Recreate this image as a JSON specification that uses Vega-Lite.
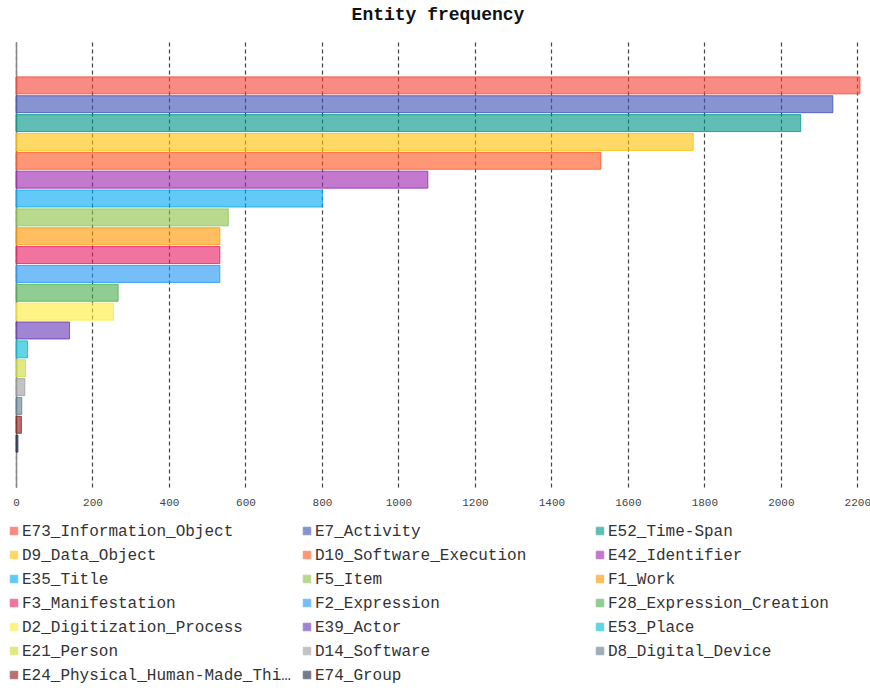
{
  "$schema": "https://vega.github.io/schema/vega-lite/v6.json",
  "width": 844,
  "height": 445,
  "autosize": "none",
  "padding": {"left": 16, "top": 42, "right": 10, "bottom": 203},
  "background": "white",
  "title": {
    "text": "Entity frequency",
    "font": "Liberation Mono",
    "fontSize": 18,
    "fontWeight": "bold",
    "color": "#111",
    "anchor": "middle",
    "offset": 18
  },
  "data": {
    "values": [
      {"entity": "E73_Information_Object", "count": 2207},
      {"entity": "E7_Activity", "count": 2136},
      {"entity": "E52_Time-Span", "count": 2052},
      {"entity": "D9_Data_Object", "count": 1771},
      {"entity": "D10_Software_Execution", "count": 1529},
      {"entity": "E42_Identifier", "count": 1077},
      {"entity": "E35_Title", "count": 801},
      {"entity": "F5_Item", "count": 555},
      {"entity": "F1_Work", "count": 533},
      {"entity": "F3_Manifestation", "count": 533},
      {"entity": "F2_Expression", "count": 533},
      {"entity": "F28_Expression_Creation", "count": 267},
      {"entity": "D2_Digitization_Process", "count": 255},
      {"entity": "E39_Actor", "count": 140},
      {"entity": "E53_Place", "count": 30},
      {"entity": "E21_Person", "count": 25},
      {"entity": "D14_Software", "count": 23},
      {"entity": "D8_Digital_Device", "count": 15},
      {"entity": "E24_Physical_Human-Made_Thing", "count": 14},
      {"entity": "E74_Group", "count": 5}
    ]
  },
  "mark": {"type": "bar", "fillOpacity": 0.62, "strokeOpacity": 0.8, "strokeWidth": 1},
  "encoding": {
    "y": {
      "field": "entity",
      "type": "nominal",
      "sort": null,
      "scale": {
        "domain": ["_pad_top", "E73_Information_Object", "E7_Activity", "E52_Time-Span", "D9_Data_Object", "D10_Software_Execution", "E42_Identifier", "E35_Title", "F5_Item", "F1_Work", "F3_Manifestation", "F2_Expression", "F28_Expression_Creation", "D2_Digitization_Process", "E39_Actor", "E53_Place", "E21_Person", "D14_Software", "D8_Digital_Device", "E24_Physical_Human-Made_Thing", "E74_Group", "_pad_bottom"],
        "paddingInner": 0.1,
        "paddingOuter": 0.85
      },
      "axis": {"labels": false, "ticks": false, "title": null, "domain": true, "domainColor": "#888", "domainWidth": 1.5, "grid": false}
    },
    "x": {
      "field": "count",
      "type": "quantitative",
      "scale": {"domain": [0, 2207], "nice": false},
      "axis": {
        "values": [0, 200, 400, 600, 800, 1000, 1200, 1400, 1600, 1800, 2000, 2200],
        "format": "d",
        "title": null,
        "domain": false,
        "ticks": false,
        "grid": true,
        "gridColor": "#444",
        "gridDash": [4, 3],
        "gridWidth": 1.2,
        "labelFont": "Liberation Mono",
        "labelFontSize": 11,
        "labelColor": "#444",
        "labelPadding": 9,
        "labelFlush": false
      }
    },
    "color": {
      "field": "entity",
      "type": "nominal",
      "sort": null,
      "scale": {
        "range": ["#F44336", "#3F51B5", "#009688", "#FFC107", "#FF5722", "#9C27B0", "#03A9F4", "#8BC34A", "#FF9800", "#E91E63", "#2196F3", "#4CAF50", "#FFEB3B", "#673AB7", "#00BCD4", "#CDDC39", "#9E9E9E", "#607D8B", "#8B1A1A", "#1F2940"]
      },
      "legend": {
        "orient": "none",
        "legendX": -10,
        "legendY": 481,
        "direction": "horizontal",
        "columns": 3,
        "gridAlign": "all",
        "title": null,
        "padding": 0,
        "labelFont": "Liberation Mono",
        "labelFontSize": 16,
        "labelColor": "#333",
        "labelLimit": 272,
        "labelOffset": 0,
        "columnPadding": 8,
        "rowPadding": 8,
        "symbolType": "square",
        "symbolSize": 56,
        "symbolOpacity": 0.62,
        "symbolStrokeWidth": 1
      }
    },
    "stroke": {
      "field": "entity",
      "type": "nominal",
      "sort": null,
      "scale": {
        "range": ["#F44336", "#3F51B5", "#009688", "#FFC107", "#FF5722", "#9C27B0", "#03A9F4", "#8BC34A", "#FF9800", "#E91E63", "#2196F3", "#4CAF50", "#FFEB3B", "#673AB7", "#00BCD4", "#CDDC39", "#9E9E9E", "#607D8B", "#8B1A1A", "#1F2940"]
      },
      "legend": null
    }
  },
  "config": {"view": {"stroke": null}}
}
